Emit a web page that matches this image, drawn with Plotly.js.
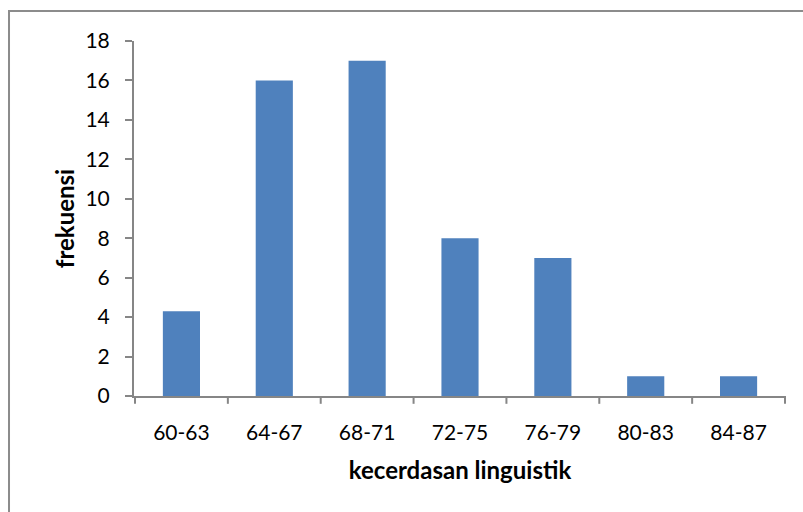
<!DOCTYPE html>
<html>
<head>
<meta charset="utf-8">
<script src="https://cdn.plot.ly/plotly-3.0.1.min.js"></script>
<style>html,body{margin:0;padding:0;background:#fff;}#chart{width:803px;height:512px;}</style>
</head>
<body>
<div id="chart"></div>
<script>
const categories = ["60-63", "64-67", "68-71", "72-75", "76-79", "80-83", "84-87"];
const frekuensi = [4.3, 16, 17, 8, 7, 1, 1];
const yTicks = [0, 2, 4, 6, 8, 10, 12, 14, 16, 18];
const xTitle = "kecerdasan linguistik";
const yTitle = "frekuensi";

const font = "Lato, 'Open Sans', sans-serif";
const axisColor = "#868686";

Plotly.newPlot("chart", [{
  type: "bar",
  x: categories,
  y: frekuensi,
  marker: {color: "#4F81BD"},
  hoverinfo: "x+y"
}], {
  width: 803, height: 512,
  margin: {l: 134, r: 17, t: 41, b: 116, pad: 0},
  paper_bgcolor: "#fff", plot_bgcolor: "#fff",
  bargap: 0.6,
  showlegend: false,
  font: {family: font, color: "#000", size: 21},
  xaxis: {
    type: "category",
    showline: true, linecolor: axisColor, linewidth: 2,
    showgrid: false, zeroline: false,
    ticks: "", tickfont: {size: 21, family: font},
    ticklabelstandoff: 17,
    title: {text: "<b>" + xTitle + "</b>", font: {size: 24, family: font}, standoff: 19}
  },
  yaxis: {
    range: [0, 18],
    tickvals: yTicks,
    showline: true, linecolor: axisColor, linewidth: 2,
    showgrid: false, zeroline: false,
    ticks: "outside", ticklen: 7, tickcolor: axisColor, tickwidth: 2,
    tickfont: {size: 21, family: font},
    ticklabelstandoff: 11,
    title: {text: "<b>" + yTitle + "</b>", font: {size: 24, family: font}, standoff: 4}
  },
  shapes: [
    {type: "rect", xref: "paper", yref: "paper", x0: -0.1917, x1: 1.2, y0: -0.6, y1: 1.0845,
     line: {color: "#8c8c8c", width: 2}, fillcolor: "rgba(0,0,0,0)", layer: "below"}
  ].concat(categories.map((c, i) => ({
    type: "line", xref: "x", yref: "paper", x0: i - 0.5, x1: i - 0.5, y0: 0, y1: -0.022,
    line: {color: axisColor, width: 2}
  }))).concat([{
    type: "line", xref: "x", yref: "paper", x0: categories.length - 0.5, x1: categories.length - 0.5, y0: 0, y1: -0.022,
    line: {color: axisColor, width: 2}
  }])
}, {displayModeBar: false, staticPlot: true});
</script>
</body>
</html>
